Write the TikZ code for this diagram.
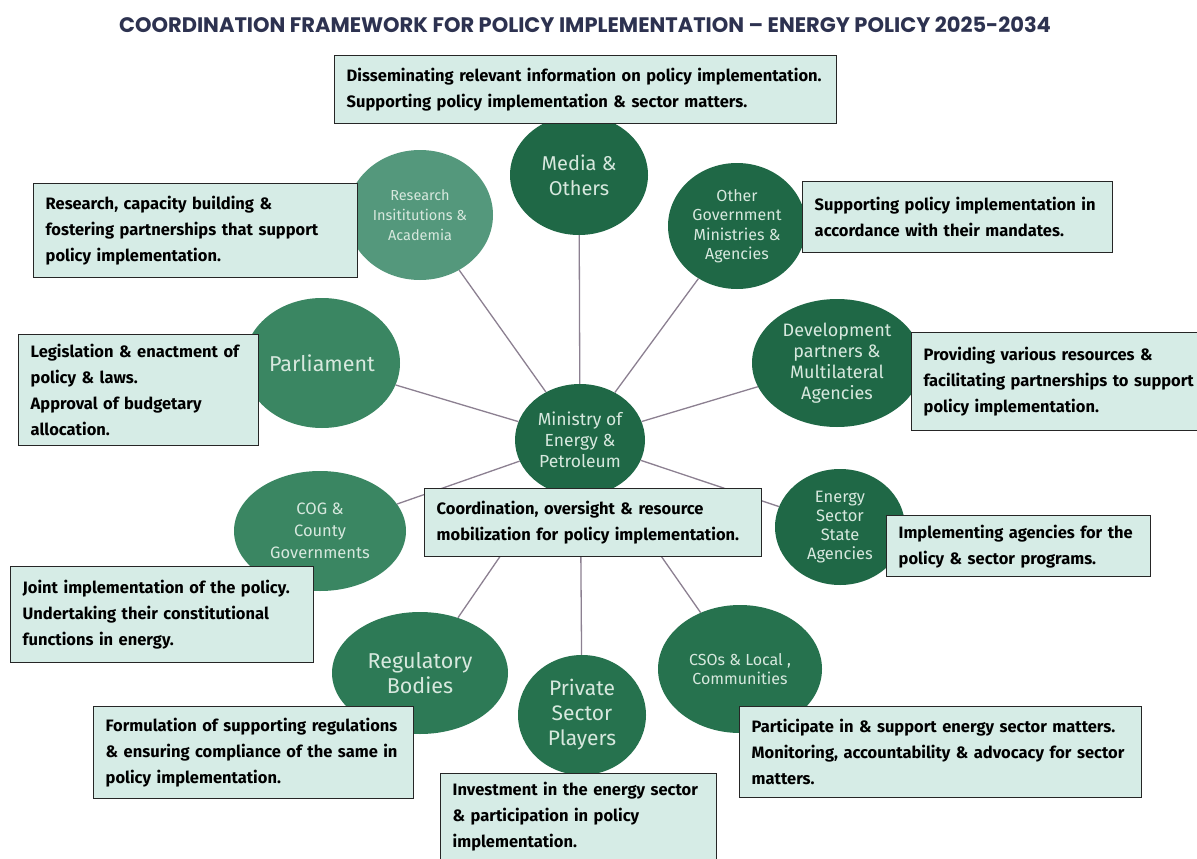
\documentclass[tikz,border=0pt]{standalone}
\usepackage{fontspec}
\setmainfont{Fira Sans}
\newfontfamily\titlefont{Poppins}
\usetikzlibrary{shapes.geometric}

\definecolor{darkgreen}{HTML}{1F6846}
\definecolor{midgreen}{HTML}{3A8662}
\definecolor{lightgreen}{HTML}{54987C}
\definecolor{reggreen}{HTML}{2D7A56}
\definecolor{deepgreen}{HTML}{26724E}
\definecolor{txtgreen}{HTML}{D7E8DE}
\definecolor{boxfill}{HTML}{D6ECE6}
\definecolor{linkgray}{HTML}{8C8091}
\definecolor{titlenavy}{HTML}{2D3250}

\begin{document}
\begin{tikzpicture}[x=1pt,y=-1pt]
        \tikzstyle{party}=[ellipse,inner sep=0pt,text=txtgreen,align=center]
        \tikzstyle{role}=[draw=black!85,line width=1.4pt,fill=boxfill,align=left,anchor=north west,inner xsep=12pt,inner ysep=0pt,font=\fontsize{16.5}{26}\selectfont\bfseries]
        \tikzstyle{link}=[draw=linkgray,line width=1.3pt]

        \useasboundingbox (0,0) rectangle (1197,859);
        \fill[white] (0,0) rectangle (1197,859);

        \draw (585,25) node[font=\titlefont\fontsize{21}{23}\selectfont\bfseries,text=titlenavy] (title) {COORDINATION FRAMEWORK FOR POLICY IMPLEMENTATION – ENERGY POLICY 2025-2034};

        % stakeholders
        \draw (580,440) node[party,fill=darkgreen,minimum width=130pt,minimum height=112pt,font=\fontsize{17.5}{21}\selectfont] (v1) {Ministry of\\Energy \&\\Petroleum};
        \draw (579,175) node[party,fill=darkgreen,minimum width=138pt,minimum height=120pt,font=\fontsize{20}{25}\selectfont] (v2) {Media \&\\Others};
        \draw (420,215) node[party,fill=lightgreen,minimum width=146pt,minimum height=130pt,font=\fontsize{14.5}{20}\selectfont] (v3) {Research\\Insititutions \&\\Academia};
        \draw (737,226) node[party,fill=darkgreen,minimum width=138pt,minimum height=126pt,font=\fontsize{16}{19.5}\selectfont] (v4) {Other\\Government\\Ministries \&\\Agencies};
        \draw (322,363) node[party,fill=midgreen,minimum width=156pt,minimum height=130pt,font=\fontsize{21.5}{25}\selectfont] (v5) {Parliament};
        \draw (837,363) node[party,fill=darkgreen,minimum width=170pt,minimum height=128pt,font=\fontsize{18}{21}\selectfont] (v6) {Development\\partners \&\\Multilateral\\Agencies};
        \draw (320,531) node[party,fill=midgreen,minimum width=172pt,minimum height=120pt,font=\fontsize{16.5}{22}\selectfont] (v7) {COG \&\\County\\Governments};
        \draw (840,527) node[party,fill=darkgreen,minimum width=130pt,minimum height=116pt,font=\fontsize{16.5}{19}\selectfont] (v8) {Energy\\Sector\\State\\Agencies};
        \draw (420,673) node[party,fill=reggreen,minimum width=176pt,minimum height=122pt,font=\fontsize{21.5}{25}\selectfont] (v9) {Regulatory\\Bodies};
        \draw (582,715) node[party,fill=deepgreen,minimum width=128pt,minimum height=120pt,font=\fontsize{21}{25}\selectfont] (v10) {Private\\Sector\\Players};
        \draw (740,669) node[party,fill=deepgreen,minimum width=164pt,minimum height=128pt,font=\fontsize{16}{19}\selectfont] (v11) {CSOs \& Local ,\\Communities};

        % links to the ministry
        \draw[link] (v1) -- (v2);
        \draw[link] (v1) -- (v3);
        \draw[link] (v1) -- (v4);
        \draw[link] (v1) -- (v5);
        \draw[link] (v1) -- (v6);
        \draw[link] (v1) -- (v7);
        \draw[link] (v1) -- (v8);
        \draw[link] (v1) -- (v9);
        \draw[link] (v1) -- (v10);
        \draw[link] (v1) -- (v11);

        % roles
        \draw (334,55) node[role,text width=478pt,minimum height=68pt] (t2) {Disseminating relevant information on policy implementation.\\Supporting policy implementation \& sector matters.};
        \draw (33,183) node[role,text width=300pt,minimum height=94pt] (t3) {Research, capacity building \&\\fostering partnerships that support\\policy implementation.};
        \draw (802,181) node[role,text width=286pt,minimum height=71pt] (t4) {Supporting policy implementation in\\accordance with their mandates.};
        \draw (18,334) node[role,text width=216pt,minimum height=111pt] (t5) {Legislation \& enactment of\\policy \& laws.\\Approval of budgetary\\allocation.};
        \draw (911,332) node[role,text width=290pt,minimum height=98pt] (t6) {Providing various resources \&\\facilitating partnerships to support\\policy implementation.};
        \draw (424,488) node[role,text width=313pt,minimum height=68pt] (t1) {Coordination, oversight \& resource\\mobilization for policy implementation.};
        \draw (886,515) node[role,text width=240pt,minimum height=61pt] (t8) {Implementing agencies for the\\policy \& sector programs.};
        \draw (10,566) node[role,text width=279pt,minimum height=96pt] (t7) {Joint implementation of the policy.\\Undertaking their constitutional\\functions in energy.};
        \draw (93,706) node[role,text width=296pt,minimum height=92pt] (t9) {Formulation of supporting regulations\\\& ensuring compliance of the same in\\policy implementation.};
        \draw (440,773) node[role,text width=252pt,minimum height=86pt] (t10) {Investment in the energy sector\\\& participation in policy\\implementation.};
        \draw (739,706) node[role,text width=378pt,minimum height=91pt] (t11) {Participate in \& support energy sector matters.\\Monitoring, accountability \& advocacy for sector\\matters.};
    \end{tikzpicture}
\end{document}
